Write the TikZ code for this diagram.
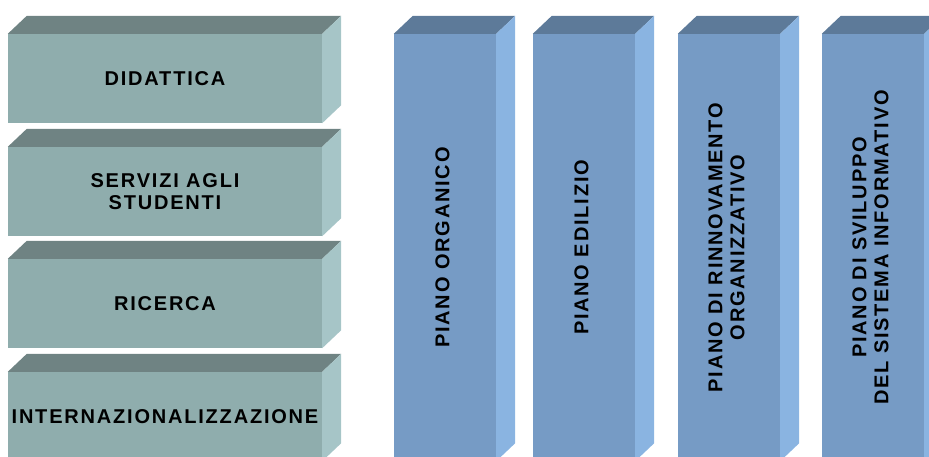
\documentclass[tikz,border=0pt]{standalone}
\usepackage{fontspec}
\setmainfont{Liberation Sans}
\newfontfamily\lblfont{Liberation Sans}[LetterSpace=9]
\usepackage{graphicx}

\definecolor{temaF}{RGB}{143,173,173}
\definecolor{temaT}{RGB}{111,131,131}
\definecolor{temaS}{RGB}{166,197,199}
\definecolor{pianoF}{RGB}{118,155,197}
\definecolor{pianoT}{RGB}{93,122,153}
\definecolor{pianoS}{RGB}{138,180,225}

\newcommand{\vtesto}[1]{\rotatebox{90}{\begin{tabular}{@{}c@{}}#1\end{tabular}}}

\begin{document}
\begin{tikzpicture}[x=1pt, y=-1pt,
  faccia/.style={inner sep=0pt, align=center,
    font=\lblfont\bfseries\fontsize{20}{22}\selectfont},
  tema/.style={faccia, fill=temaF, minimum width=314pt, minimum height=89pt},
  piano/.style={faccia, fill=pianoF, minimum width=102pt, minimum height=427pt}]

  \useasboundingbox (0,0) rectangle (929,456);
  \clip (0,0) rectangle (929,456);

  % temi a sinistra
  \node[tema] (did) at (165,78.5)  {DIDATTICA};
  \node[tema] (ser) at (165,191.5) {SERVIZI AGLI\\STUDENTI};
  \node[tema] (ric) at (165,303.5) {RICERCA};
  \node[tema] (int) at (165,416.5) {INTERNAZIONALIZZAZIONE};

  % piani verticali
  \node[piano] (org) at (445,247.5) {\vtesto{PIANO ORGANICO}};
  \node[piano] (edi) at (584,247.5) {\vtesto{PIANO EDILIZIO}};
  \node[piano] (rin) at (729,247.5) {\vtesto{PIANO DI RINNOVAMENTO\\ORGANIZZATIVO}};
  \node[piano] (svi) at (873,247.5) {\vtesto{PIANO DI SVILUPPO\\DEL SISTEMA INFORMATIVO}};

  % facce superiori e laterali
  \foreach \n/\c in {did/tema, ser/tema, ric/tema, int/tema,
                     org/piano, edi/piano, rin/piano, svi/piano} {
    \fill[\c T] (\n.north west) -- ++(19,-18)
      -- ([shift={(19,-18)}]\n.north east) -- (\n.north east) -- cycle;
    \fill[\c S] (\n.north east) -- ++(19,-18)
      -- ([shift={(19,-18)}]\n.south east) -- (\n.south east) -- cycle;
  }
\end{tikzpicture}
\end{document}
